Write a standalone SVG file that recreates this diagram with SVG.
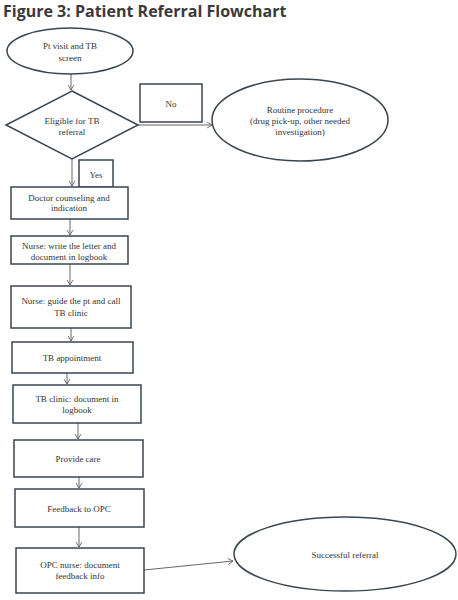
<svg xmlns="http://www.w3.org/2000/svg" width="458" height="600" viewBox="0 0 458 600">
<defs>
<marker id="arr" markerWidth="8" markerHeight="8" refX="6" refY="4" orient="auto" markerUnits="userSpaceOnUse">
<path d="M1,1 L6,4 L1,7" fill="none" stroke="#555" stroke-width="0.8"/>
</marker>
<style>
.shape{fill:#fff;stroke:#3a4650;stroke-width:1.5}
.t{font-family:"Liberation Serif",serif;font-size:9px;fill:#333;text-anchor:middle}
.c{fill:none;stroke:#555;stroke-width:0.9;marker-end:url(#arr)}
.title{font-family:"Open Sans","Liberation Sans",sans-serif;font-weight:bold;font-size:16px;fill:#3a3a3a}
</style>
</defs>
<rect width="458" height="600" fill="#fff"/>
<text class="title" x="3" y="17">Figure 3: Patient Referral Flowchart</text>

<g id="connectors">
<line class="c" x1="71" y1="74" x2="71" y2="90"/>
<line class="c" x1="138" y1="125" x2="212" y2="125"/>
<line class="c" x1="72" y1="159" x2="72" y2="186"/>
<line class="c" x1="70" y1="219" x2="70" y2="235"/>
<line class="c" x1="70" y1="264" x2="70" y2="285"/>
<line class="c" x1="71" y1="328" x2="71" y2="341"/>
<line class="c" x1="67" y1="373" x2="67" y2="384"/>
<line class="c" x1="78" y1="423" x2="78" y2="439"/>
<line class="c" x1="79" y1="477" x2="79" y2="488"/>
<line class="c" x1="79" y1="527" x2="79" y2="547"/>
<line class="c" x1="144" y1="570" x2="233" y2="561"/>
</g>

<g id="start">
<ellipse class="shape" cx="70" cy="51" rx="63" ry="23"/>
<text class="t" x="70" y="49">Pt visit and TB</text>
<text class="t" x="70" y="61">screen</text>
</g>

<g id="decision">
<polygon class="shape" points="72,91 138,125 72,159 6,125"/>
<text class="t" x="72" y="124">Eligible for TB</text>
<text class="t" x="72" y="135">referral</text>
</g>

<g id="no-label">
<rect class="shape" x="140" y="84" width="62" height="38"/>
<text class="t" x="171" y="107">No</text>
</g>

<g id="routine">
<ellipse class="shape" cx="300" cy="120" rx="88" ry="41"/>
<text class="t" x="300" y="113">Routine procedure</text>
<text class="t" x="300" y="124">(drug pick-up, other needed</text>
<text class="t" x="300" y="135">investigation)</text>
</g>

<g id="yes-label">
<rect class="shape" x="79" y="160" width="34" height="27"/>
<text class="t" x="96" y="178">Yes</text>
</g>

<g id="doctor">
<rect class="shape" x="11" y="187" width="117" height="32"/>
<text class="t" x="69" y="201">Doctor counseling and</text>
<text class="t" x="69" y="211">indication</text>
</g>

<g id="nurse-write">
<rect class="shape" x="11" y="236" width="117" height="28"/>
<text class="t" x="69" y="249">Nurse: write the letter and</text>
<text class="t" x="69" y="260">document in logbook</text>
</g>

<g id="nurse-guide">
<rect class="shape" x="11" y="286" width="120" height="42"/>
<text class="t" x="71" y="304">Nurse: guide the pt and call</text>
<text class="t" x="71" y="316">TB clinic</text>
</g>

<g id="tb-appointment">
<rect class="shape" x="12" y="342" width="121" height="31"/>
<text class="t" x="72" y="361">TB appointment</text>
</g>

<g id="tb-clinic">
<rect class="shape" x="13" y="385" width="128" height="38"/>
<text class="t" x="77" y="402">TB clinic: document in</text>
<text class="t" x="77" y="413">logbook</text>
</g>

<g id="provide-care">
<rect class="shape" x="14" y="440" width="129" height="37"/>
<text class="t" x="78" y="462">Provide care</text>
</g>

<g id="feedback">
<rect class="shape" x="15" y="489" width="129" height="38"/>
<text class="t" x="79" y="512">Feedback to OPC</text>
</g>

<g id="opc-nurse">
<rect class="shape" x="16" y="548" width="128" height="45"/>
<text class="t" x="80" y="568">OPC nurse: document</text>
<text class="t" x="80" y="579">feedback info</text>
</g>

<g id="success">
<ellipse class="shape" cx="345" cy="554" rx="111" ry="37"/>
<text class="t" x="345" y="558">Successful referral</text>
</g>
</svg>
